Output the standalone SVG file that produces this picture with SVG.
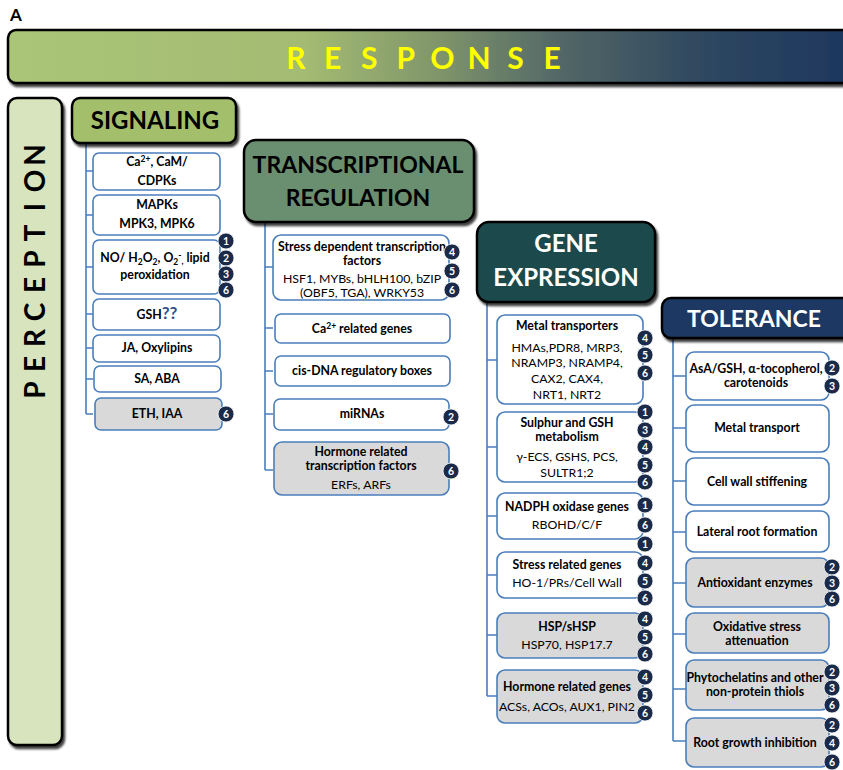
<svg xmlns="http://www.w3.org/2000/svg" width="843" height="770" viewBox="0 0 843 770">
<defs>
<linearGradient id="gResp" x1="0" y1="0" x2="1" y2="0">
<stop offset="0" stop-color="#aac577"/>
<stop offset="0.35" stop-color="#a3bb72"/>
<stop offset="0.5" stop-color="#82976b"/>
<stop offset="0.65" stop-color="#526766"/>
<stop offset="0.82" stop-color="#2e4760"/>
<stop offset="1" stop-color="#1c365e"/>
</linearGradient>
<filter id="sh" x="-5%" y="-10%" width="115%" height="130%">
<feDropShadow dx="2" dy="3" stdDeviation="1.2" flood-color="#000" flood-opacity="0.75"/>
</filter>
</defs>
<style>
.hdr{stroke:#000;stroke-width:2.5}
.ht{font-family:Lato,"Liberation Sans",sans-serif;font-weight:bold;text-anchor:middle}
.box{fill:#fff;stroke:#4a7ebb;stroke-width:1.6}
.gbox{fill:#d9d9d9;stroke:#4a7ebb;stroke-width:1.6}
.t{font-family:Lato,"Liberation Sans",sans-serif;font-size:12.3px;text-anchor:middle;fill:#000}
.b{font-weight:bold}
.con{stroke:#4a7ebb;stroke-width:1.6;fill:none}
.bd circle{fill:#1b2a48;stroke:#fff;stroke-width:0.8}
.bd text{font-family:Lato,"Liberation Sans",sans-serif;font-size:10.5px;font-weight:bold;fill:#fff;text-anchor:middle}
</style>
<text x="10" y="21" font-family="Lato,'Liberation Sans',sans-serif" font-size="17" font-weight="bold">A</text>

<g id="response">
<rect x="8" y="30" width="850" height="53" rx="8" fill="url(#gResp)" class="hdr" filter="url(#sh)"/>
<text class="ht" x="296 332.6 369.2 405.8 442.4 479 515.6 552.2" y="69" font-size="30" fill="#ffff00">RESPONSE</text>
</g>

<g id="perception">
<rect x="8" y="98" width="54" height="647" rx="9" fill="#d7e4bd" class="hdr" filter="url(#sh)"/>
<text class="ht" transform="rotate(-90)" x="-390 -364 -338 -312 -285 -259 -233 -207 -181 -155" y="45" font-size="28" fill="#000">PERCEPTION</text>
</g>

<g id="connectors">
<path class="con" d="M86 143V414M86 171H93M86 215H93M86 267H93M86 314H93M86 348H93M86 379H93M86 414H93"/>
<path class="con" d="M265 222V470M265 267H273M265 328H273M265 371H273M265 414H273M265 470H273"/>
<path class="con" d="M487 302V696M487 360H497M487 447H497M487 516H497M487 575H497M487 635H497M487 696H497"/>
<path class="con" d="M673 338V741M673 376H686M673 428H686M673 481H686M673 532H686M673 583H686M673 634H686M673 689H686M673 741H686"/>
</g>

<g id="signaling">
<rect x="72" y="98" width="164" height="45" rx="8" fill="#a3bf6c" class="hdr" filter="url(#sh)"/>
<text class="ht" x="155" y="129" font-size="24" fill="#000">SIGNALING</text>
</g>
<g id="sig-ca">
<rect class="box" x="93" y="153" width="127" height="37" rx="6"/>
<text class="t b" x="157" y="166">Ca<tspan font-size="8.5" dy="-4">2+</tspan><tspan dy="4">, CaM/</tspan></text>
<text class="t b" x="157" y="185">CDPKs</text>
</g>
<g id="sig-mapk">
<rect class="box" x="93" y="195" width="127" height="40" rx="6"/>
<text class="t b" x="157" y="209">MAPKs</text>
<text class="t b" x="157" y="228">MPK3, MPK6</text>
</g>
<g id="sig-no">
<rect class="box" x="93" y="240" width="127" height="54" rx="6"/>
<text class="t b" x="155" y="262">NO/ H<tspan font-size="8.5" dy="3">2</tspan><tspan dy="-3">O</tspan><tspan font-size="8.5" dy="3">2</tspan><tspan dy="-3">, O</tspan><tspan font-size="8.5" dy="3">2</tspan><tspan font-size="8.5" dy="-7">-</tspan><tspan font-size="8.5" dy="6">,</tspan><tspan dy="-2"> lipid</tspan></text>
<text class="t b" x="155" y="279">peroxidation</text>
<g class="bd"><circle cx="226" cy="241" r="8"/><text x="226" y="244.8">1</text><circle cx="226" cy="258" r="8"/><text x="226" y="261.8">2</text><circle cx="226" cy="274" r="8"/><text x="226" y="277.8">3</text><circle cx="226" cy="290" r="8"/><text x="226" y="293.8">6</text></g>
</g>
<g id="sig-gsh">
<rect class="box" x="93" y="299" width="127" height="31" rx="6"/>
<text class="t b" x="157" y="319">GSH<tspan fill="#2f4f8a" font-size="17">??</tspan></text>
</g>
<g id="sig-ja">
<rect class="box" x="93" y="335" width="127" height="27" rx="6"/>
<text class="t b" x="157" y="352">JA, Oxylipins</text>
</g>
<g id="sig-sa">
<rect class="box" x="94" y="366" width="127" height="26" rx="6"/>
<text class="t b" x="157" y="383">SA, ABA</text>
</g>
<g id="sig-eth">
<rect class="gbox" x="95" y="398" width="127" height="32" rx="6"/>
<text class="t b" x="157" y="418">ETH, IAA</text>
<g class="bd"><circle cx="226" cy="414" r="8"/><text x="226" y="417.8">6</text></g>
</g>

<g id="transcriptional">
<rect x="244" y="140" width="230" height="82" rx="12" fill="#6b8f6f" class="hdr" filter="url(#sh)"/>
<text class="ht" x="358" y="173" font-size="23" fill="#000">TRANSCRIPTIONAL</text>
<text class="ht" x="358" y="206" font-size="23" fill="#000">REGULATION</text>
</g>
<g id="tr-stress">
<rect class="box" x="273" y="235" width="176" height="65" rx="8"/>
<text class="t b" x="362" y="251">Stress dependent transcription</text>
<text class="t b" x="362" y="265">factors</text>
<text class="t" x="362" y="283">HSF1, MYBs, bHLH100, bZIP</text>
<text class="t" x="362" y="297">(OBF5, TGA), WRKY53</text>
<g class="bd"><circle cx="452" cy="252" r="8"/><text x="452" y="255.8">4</text><circle cx="452" cy="271" r="8"/><text x="452" y="274.8">5</text><circle cx="452" cy="290" r="8"/><text x="452" y="293.8">6</text></g>
</g>
<g id="tr-ca">
<rect class="box" x="275" y="314" width="175" height="29" rx="6"/>
<text class="t b" x="362" y="333">Ca<tspan font-size="8.5" dy="-4">2+</tspan><tspan dy="4"> related genes</tspan></text>
</g>
<g id="tr-cis">
<rect class="box" x="275" y="356" width="175" height="30" rx="6"/>
<text class="t b" x="362" y="375">cis-DNA regulatory boxes</text>
</g>
<g id="tr-mirna">
<rect class="box" x="274" y="399" width="175" height="31" rx="6"/>
<text class="t b" x="362" y="418">miRNAs</text>
<g class="bd"><circle cx="451" cy="417" r="8"/><text x="451" y="420.8">2</text></g>
</g>
<g id="tr-hormone">
<rect class="gbox" x="274" y="442" width="175" height="53" rx="8"/>
<text class="t b" x="361" y="456">Hormone related</text>
<text class="t b" x="361" y="470">transcription factors</text>
<text class="t" x="361" y="489">ERFs, ARFs</text>
<g class="bd"><circle cx="451" cy="471" r="8"/><text x="451" y="474.8">6</text></g>
</g>

<g id="gene-expression">
<rect x="477" y="222" width="178" height="80" rx="12" fill="#1f4a4c" class="hdr" filter="url(#sh)"/>
<text class="ht" x="566" y="252" font-size="24" fill="#fff">GENE</text>
<text class="ht" x="566" y="286" font-size="24" fill="#fff">EXPRESSION</text>
</g>
<g id="ge-metal">
<rect class="box" x="497" y="315" width="146" height="89" rx="8"/>
<text class="t b" x="567" y="330">Metal transporters</text>
<text class="t" x="567" y="352">HMAs,PDR8, MRP3,</text>
<text class="t" x="567" y="367">NRAMP3, NRAMP4,</text>
<text class="t" x="567" y="383">CAX2, CAX4,</text>
<text class="t" x="567" y="399">NRT1, NRT2</text>
<g class="bd"><circle cx="645" cy="338" r="8"/><text x="645" y="341.8">4</text><circle cx="645" cy="355" r="8"/><text x="645" y="358.8">5</text><circle cx="645" cy="373" r="8"/><text x="645" y="376.8">6</text></g>
</g>
<g id="ge-sulphur">
<rect class="box" x="497" y="412" width="146" height="70" rx="8"/>
<text class="t b" x="567" y="427">Sulphur and GSH</text>
<text class="t b" x="567" y="441">metabolism</text>
<text class="t" x="567" y="461">γ-ECS, GSHS, PCS,</text>
<text class="t" x="567" y="477">SULTR1;2</text>
<g class="bd"><circle cx="645" cy="412" r="8"/><text x="645" y="415.8">1</text><circle cx="645" cy="430" r="8"/><text x="645" y="433.8">3</text><circle cx="645" cy="447" r="8"/><text x="645" y="450.8">4</text><circle cx="645" cy="465" r="8"/><text x="645" y="468.8">5</text><circle cx="645" cy="482" r="8"/><text x="645" y="485.8">6</text></g>
</g>
<g id="ge-nadph">
<rect class="box" x="497" y="493" width="146" height="46" rx="8"/>
<text class="t b" x="567" y="511">NADPH oxidase genes</text>
<text class="t" x="567" y="529">RBOHD/C/F</text>
<g class="bd"><circle cx="645" cy="505" r="8"/><text x="645" y="508.8">1</text><circle cx="645" cy="525" r="8"/><text x="645" y="528.8">6</text></g>
</g>
<g id="ge-stress">
<rect class="box" x="497" y="552" width="146" height="46" rx="8"/>
<text class="t b" x="567" y="569">Stress related genes</text>
<text class="t" x="567" y="587">HO-1/PRs/Cell Wall</text>
<g class="bd"><circle cx="645" cy="544" r="8"/><text x="645" y="547.8">1</text><circle cx="645" cy="563" r="8"/><text x="645" y="566.8">4</text><circle cx="645" cy="581" r="8"/><text x="645" y="584.8">5</text><circle cx="645" cy="598" r="8"/><text x="645" y="601.8">6</text></g>
</g>
<g id="ge-hsp">
<rect class="gbox" x="497" y="613" width="146" height="45" rx="8"/>
<text class="t b" x="567" y="631">HSP/sHSP</text>
<text class="t" x="567" y="649">HSP70, HSP17.7</text>
<g class="bd"><circle cx="645" cy="619" r="8"/><text x="645" y="622.8">4</text><circle cx="645" cy="637" r="8"/><text x="645" y="640.8">5</text><circle cx="645" cy="654" r="8"/><text x="645" y="657.8">6</text></g>
</g>
<g id="ge-hormone">
<rect class="gbox" x="497" y="670" width="146" height="53" rx="8"/>
<text class="t b" x="567" y="691">Hormone related genes</text>
<text class="t" x="567" y="711">ACSs, ACOs, AUX1, PIN2</text>
<g class="bd"><circle cx="645" cy="677" r="8"/><text x="645" y="680.8">4</text><circle cx="645" cy="695" r="8"/><text x="645" y="698.8">5</text><circle cx="645" cy="713" r="8"/><text x="645" y="716.8">6</text></g>
</g>

<g id="tolerance">
<rect x="662" y="298" width="200" height="40" rx="9" fill="#1f3864" class="hdr" filter="url(#sh)"/>
<text class="ht" x="754" y="327" font-size="23" fill="#fff">TOLERANCE</text>
</g>
<g id="to-asa">
<rect class="box" x="686" y="352" width="143" height="48" rx="8"/>
<text class="t b" x="756" y="373">AsA/GSH, α-tocopherol,</text>
<text class="t b" x="756" y="387">carotenoids</text>
<g class="bd"><circle cx="832" cy="368" r="8"/><text x="832" y="371.8">2</text><circle cx="832" cy="386" r="8"/><text x="832" y="389.8">3</text></g>
</g>
<g id="to-metal">
<rect class="box" x="686" y="405" width="143" height="47" rx="8"/>
<text class="t b" x="757" y="432">Metal transport</text>
</g>
<g id="to-cellwall">
<rect class="box" x="686" y="458" width="143" height="47" rx="8"/>
<text class="t b" x="757" y="486">Cell wall stiffening</text>
</g>
<g id="to-lateral">
<rect class="box" x="686" y="511" width="143" height="41" rx="8"/>
<text class="t b" x="757" y="536">Lateral root formation</text>
</g>
<g id="to-antiox">
<rect class="gbox" x="686" y="558" width="143" height="49" rx="8"/>
<text class="t b" x="755" y="587">Antioxidant enzymes</text>
<g class="bd"><circle cx="832" cy="567" r="8"/><text x="832" y="570.8">2</text><circle cx="832" cy="583" r="8"/><text x="832" y="586.8">3</text><circle cx="832" cy="599" r="8"/><text x="832" y="602.8">6</text></g>
</g>
<g id="to-oxid">
<rect class="gbox" x="686" y="613" width="143" height="40" rx="8"/>
<text class="t b" x="757" y="631">Oxidative stress</text>
<text class="t b" x="757" y="645">attenuation</text>
</g>
<g id="to-phyto">
<rect class="gbox" x="686" y="660" width="143" height="50" rx="8"/>
<text class="t b" x="755" y="682">Phytochelatins and other</text>
<text class="t b" x="755" y="696">non-protein thiols</text>
<g class="bd"><circle cx="832" cy="672" r="8"/><text x="832" y="675.8">2</text><circle cx="832" cy="688" r="8"/><text x="832" y="691.8">3</text><circle cx="832" cy="705" r="8"/><text x="832" y="708.8">6</text></g>
</g>
<g id="to-root">
<rect class="gbox" x="686" y="718" width="143" height="49" rx="8"/>
<text class="t b" x="755" y="747">Root growth inhibition</text>
<g class="bd"><circle cx="832" cy="725" r="8"/><text x="832" y="728.8">2</text><circle cx="832" cy="743" r="8"/><text x="832" y="746.8">4</text><circle cx="832" cy="762" r="8"/><text x="832" y="765.8">6</text></g>
</g>
</svg>
